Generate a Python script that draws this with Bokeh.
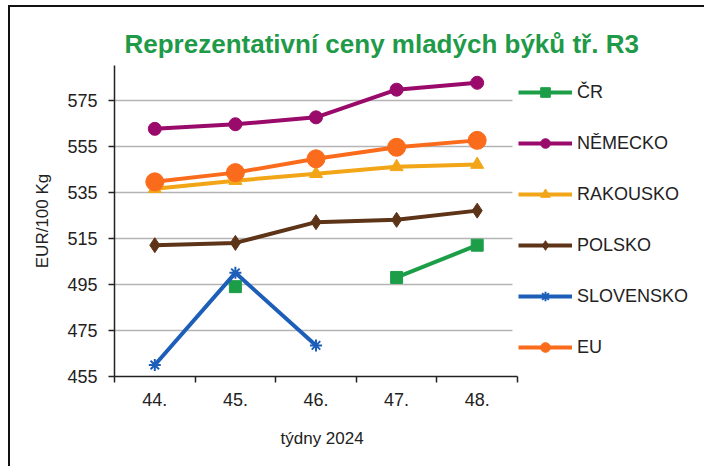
import numpy as np
from bokeh.plotting import figure
from bokeh.models import Range1d, FixedTicker, Legend, LegendItem, Grid, Title
from bokeh.embed import file_html
from bokeh.resources import INLINE

# ---- data ----
weeks = ["44.", "45.", "46.", "47.", "48."]
cr = [np.nan, 494, np.nan, 498, 512]
nemecko = [562.5, 564.5, 567.5, 579.5, 582.5]
rakousko = [536.5, 540, 543, 546, 547]
polsko = [512, 513, 522, 523, 527]
slovensko = [460, 500, 468.5, np.nan, np.nan]
eu = [539.5, 543.5, 549.5, 554.5, 557.5]
y_ticks = [455, 475, 495, 515, 535, 555, 575]

series_names = ["ČR", "NĚMECKO", "RAKOUSKO", "POLSKO", "SLOVENSKO", "EU"]
series_values = [cr, nemecko, rakousko, polsko, slovensko, eu]
colors = ["#1c9e48", "#990a6a", "#f2a516", "#5e3418", "#1d5eb8", "#fb6b1c"]
markers = ["square", "circle", "triangle", "diamond", "asterisk", "circle"]
sizes = [12, 13, 13, 15, 12, 18]

n = len(weeks)
x = np.arange(n) + 0.5
FONT = "Liberation Sans"

# layout: the plotting area is 403 px wide; the frame is widened to hold the legend
W, H = 696, 461
LEFT = 104
AREA_W = 403
x_end = n * (W - LEFT) / AREA_W

p = figure(width=W, height=H, output_backend="svg", toolbar_location=None,
           x_range=Range1d(0, x_end), y_range=Range1d(455, 590),
           min_border_left=LEFT, min_border_right=0, min_border_top=58, min_border_bottom=92)
p.outline_line_color = None
p.background_fill_color = "white"
p.border_fill_color = "white"

p.title.text = "Reprezentativní ceny mladých býků tř. R3"
p.title.text_font = FONT
p.title.text_font_size = "26px"
p.title.text_font_style = "bold"
p.title.text_color = "#1f9a48"
p.title.align = "left"
p.title.offset = 10
p.title.standoff = 13

# axes
p.xaxis.bounds = (0, n)
p.xaxis.ticker = FixedTicker(ticks=list(x), minor_ticks=list(range(n + 1)))
p.xaxis.major_label_overrides = {float(v): w for v, w in zip(x, weeks)}
p.xaxis.major_tick_out = 0
p.xaxis.major_tick_in = 0
p.xaxis.minor_tick_out = 6
p.xaxis.minor_tick_in = 0
p.xaxis.minor_tick_line_color = "#222222"
p.xaxis.minor_tick_line_width = 1.5
p.xaxis.major_label_standoff = 10

p.yaxis.ticker = FixedTicker(ticks=y_ticks)
p.yaxis.major_tick_out = 6
p.yaxis.major_tick_in = 0
p.yaxis.minor_tick_line_color = None
p.yaxis.major_label_standoff = 11
p.yaxis.axis_label = "EUR/100 Kg"
p.yaxis.axis_label_standoff = 12

for ax in (p.xaxis[0], p.yaxis[0]):
    ax.axis_line_color = "#222222"
    ax.axis_line_width = 1.5
    ax.major_tick_line_color = "#222222"
    ax.major_tick_line_width = 1.5
    ax.major_label_text_font = FONT
    ax.major_label_text_font_size = "18px"
    ax.major_label_text_color = "#222222"
    ax.axis_label_text_font = FONT
    ax.axis_label_text_font_size = "17px"
    ax.axis_label_text_font_style = "normal"
    ax.axis_label_text_color = "#222222"

# x-axis title centred under the plotting area (not under the widened frame)
xlab = Title(text="týdny 2024", align="left", offset=166, standoff=37,
             text_font=FONT, text_font_size="17px", text_font_style="normal",
             text_color="#222222")
p.add_layout(xlab, "below")

p.xgrid.grid_line_color = None
if "cross_bounds" in Grid.properties():
    p.ygrid.cross_bounds = (0, n - 0.06)
    p.ygrid.grid_line_color = "#b4b4b4"
    p.ygrid.grid_line_width = 1.5
else:
    p.ygrid.grid_line_color = None
    p.segment(x0=0, x1=n - 0.06, y0=y_ticks[1:], y1=y_ticks[1:],
              line_color="#b4b4b4", line_width=1.5, level="underlay")

items = []
for name, vals, col, mk, sz in zip(series_names, series_values, colors, markers, sizes):
    ln = p.line(x, vals, line_color=col, line_width=4)
    sc = p.scatter(x, vals, marker=mk, size=sz, fill_color=col, line_color=col,
                   line_width=2 if mk == "asterisk" else 1)
    items.append(LegendItem(label=name, renderers=[ln, sc]))

legend = Legend(items=items, location=(AREA_W + 1, 17), orientation="vertical",
                glyph_width=54, glyph_height=24, label_height=24, spacing=27,
                label_standoff=5, padding=0, margin=0,
                label_text_font=FONT, label_text_font_size="18px",
                label_text_color="#222222", label_text_baseline="middle",
                border_line_color=None, background_fill_alpha=0)
p.add_layout(legend, "center")

p.styles = {"margin-left": "8px", "margin-top": "5px",
            "border-left": "2px solid #111111", "border-top": "2px solid #111111"}

open("out.html", "w").write(file_html(p, INLINE))
